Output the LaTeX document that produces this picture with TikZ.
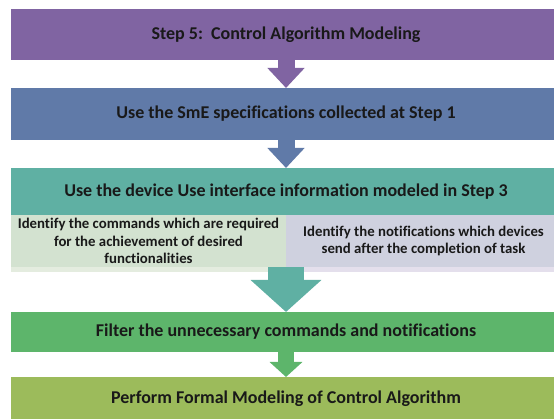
\documentclass[tikz,border=0pt]{standalone}
\usepackage{fontspec}
\setmainfont{Carlito}[Ligatures={NoCommon}]
\usetikzlibrary{arrows.meta}
\definecolor{cPurple}{HTML}{8064A2}
\definecolor{cBlue}{HTML}{607AA8}
\definecolor{cTeal}{HTML}{5FB0A3}
\definecolor{cGreen}{HTML}{5DB56B}
\definecolor{cOlive}{HTML}{9CBB5B}
\definecolor{cSubL}{HTML}{D3E2D0}
\definecolor{cSubLs}{HTML}{E4ECDF}
\definecolor{cSubR}{HTML}{CFD1DF}
\definecolor{cSubRs}{HTML}{E4DFEC}
\tikzset{
  band/.style={minimum width=550pt, inner sep=0pt, outer sep=0pt, font=\bfseries\fontsize{18}{20}\selectfont, text=black!90},
  subbox/.style={minimum width=275pt, minimum height=52pt, inner sep=0pt, outer sep=0pt, align=center, font=\bfseries\fontsize{14.8}{17.5}\selectfont, text=black!90},
  blockarrow/.style={line width=#1, line cap=butt},
}
\begin{document}
\begin{tikzpicture}[x=1pt,y=-1pt]
\useasboundingbox (0,0) rectangle (554,419);
\clip (0,0) rectangle (554,419);
\node[band, fill=cPurple, minimum height=51pt] (b1) at (286,34.5) {Step 5:\ \ Control Algorithm Modeling};
\node[band, fill=cBlue, minimum height=52pt] (b2) at (286,114) {Use the SmE specifications collected at Step 1};
\node[band, fill=cTeal, minimum height=47pt] (b3) at (286,191.5) {Use the device Use interface information modeled in Step 3};
\node[subbox, fill=cSubL] (s1) at (148.5,241) {Identify the commands which are required\\for the achievement of desired\\functionalities};
\node[subbox, fill=cSubR] (s2) at (423.5,241) {Identify the notifications which devices\\send after the completion of task};
\fill[cSubLs] ([yshift=-5pt]s1.south west) rectangle (s1.south east);
\fill[cSubRs] ([yshift=-5pt]s2.south west) rectangle (s2.south east);
\node[band, fill=cGreen, minimum height=40pt] (b4) at (286,332) {Filter the unnecessary commands and notifications};
\node[band, fill=cOlive, minimum height=43pt] (b5) at (286,398.5) {Perform Formal Modeling of Control Algorithm};
\draw[blockarrow=17pt, cPurple, -{Triangle[width=36pt,length=20pt]}] (b1.south) -- (b2.north);
\draw[blockarrow=17pt, cBlue, -{Triangle[width=36pt,length=20pt]}] (b2.south) -- (b3.north);
\draw[blockarrow=36pt, cTeal, -{Triangle[width=69pt,length=32pt]}] (s1.south east) -- (b4.north);
\draw[blockarrow=16pt, cGreen, -{Triangle[width=32pt,length=15pt]}] (b4.south) -- (b5.north);
\end{tikzpicture}
\end{document}
